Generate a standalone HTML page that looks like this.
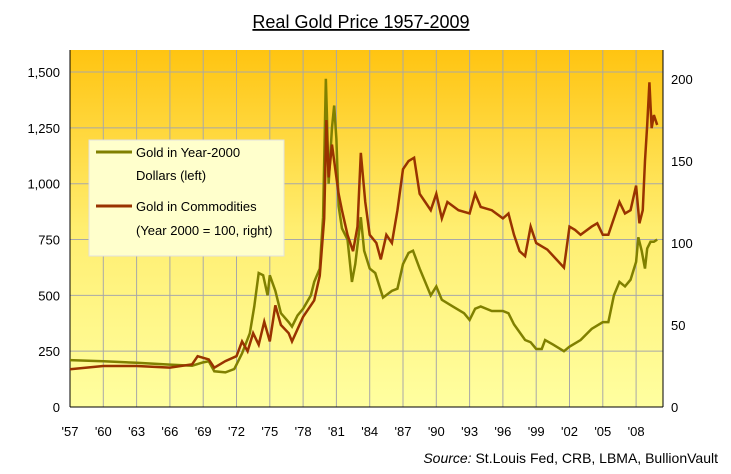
<!DOCTYPE html>
<html><head><meta charset="utf-8"><style>
body{margin:0;background:#fff;font-family:"Liberation Sans",Arial,sans-serif;}
svg text{font-family:"Liberation Sans",Arial,sans-serif;}
</style></head><body>
<svg id="chart" width="731" height="469" viewBox="0 0 731 469" xmlns="http://www.w3.org/2000/svg">
<defs><linearGradient id="bg" x1="0" y1="0" x2="0" y2="1">
<stop offset="0" stop-color="#FFC411"/><stop offset="0.5" stop-color="#FFEE70"/><stop offset="1" stop-color="#FFFFA0"/></linearGradient></defs>
<text x="361" y="28" text-anchor="middle" font-size="18" text-decoration="underline">Real Gold Price 1957-2009</text>
<rect x="70" y="50" width="593" height="357" fill="url(#bg)"/>
<g id="grid"></g><g id="axes"></g><g id="series"></g>
<g>
<rect x="89" y="140" width="195" height="116" fill="#FFFFCC" stroke="#E0E0E0"/>
<line x1="96" y1="152" x2="132" y2="152" stroke="#808000" stroke-width="3"/>
<text x="136" y="157" font-size="13">Gold in Year-2000</text>
<text x="136" y="180" font-size="13">Dollars (left)</text>
<line x1="96" y1="206" x2="132" y2="206" stroke="#993300" stroke-width="3"/>
<text x="136" y="211" font-size="13">Gold in Commodities</text>
<text x="136" y="235" font-size="13">(Year 2000 = 100, right)</text>
</g>
<text x="718" y="463" text-anchor="end" font-size="14"><tspan font-style="italic">Source:</tspan>  St.Louis Fed, CRB, LBMA, BullionVault</text>
</svg>
<script>
const leftTicks=[0,250,500,750,1000,1250,1500];
const leftTickLabels=["0","250","500","750","1,000","1,250","1,500"];
const rightTicks=[0,50,100,150,200];
const yearTicks=[1957,1960,1963,1966,1969,1972,1975,1978,1981,1984,1987,1990,1993,1996,1999,2002,2005,2008];
const yearLabels=["'57","'60","'63","'66","'69","'72","'75","'78","'81","'84","'87","'90","'93","'96","'99","'02","'05","'08"];
const goldYears=[1957,1960,1963,1966,1968,1969,1969.5,1970,1971,1971.8,1972.5,1973.2,1973.6,1974,1974.4,1974.8,1975,1975.5,1976,1976.7,1977,1977.5,1978,1978.7,1979,1979.5,1979.8,1980.05,1980.15,1980.3,1980.6,1980.8,1981,1981.2,1981.5,1982,1982.4,1982.7,1983.2,1983.5,1984,1984.5,1985.2,1986,1986.5,1987,1987.5,1987.9,1988.5,1989,1989.5,1990,1990.5,1991.5,1992.5,1993,1993.5,1994,1995,1996,1996.5,1997,1998,1998.5,1999,1999.5,1999.8,2000.5,2001.5,2002,2003,2004,2005,2005.5,2006,2006.5,2007,2007.5,2008,2008.2,2008.5,2008.8,2009,2009.3,2009.6,2009.9];
const goldValues=[210,205,198,190,185,200,205,160,155,170,240,330,450,600,590,500,590,520,420,380,360,410,440,500,560,620,850,1470,1300,1000,1250,1350,1200,900,800,750,560,640,850,700,620,600,490,520,530,640,690,700,620,560,500,540,480,450,420,390,440,450,430,430,420,370,300,290,260,260,300,280,250,270,300,350,380,380,500,560,540,570,650,760,700,620,710,740,740,750];
const commYears=[1957,1960,1963,1966,1968,1968.5,1969.5,1970,1971,1972,1972.5,1973,1973.5,1974,1974.5,1975,1975.5,1976,1976.7,1977,1978,1979,1979.5,1979.9,1980.1,1980.3,1980.6,1980.8,1981.2,1981.5,1982,1982.5,1982.9,1983.2,1983.6,1984,1984.6,1985,1985.5,1986,1986.5,1987,1987.5,1988,1988.5,1989,1989.5,1990,1990.5,1991,1992,1993,1993.5,1994,1995,1996,1996.5,1997,1997.5,1998,1998.5,1999,1999.5,2000,2001.5,2002,2002.5,2003,2004,2004.5,2005,2005.5,2006,2006.5,2007,2007.5,2008,2008.3,2008.6,2008.8,2009.0,2009.2,2009.4,2009.6,2009.9];
const commValues=[23,25,25,24,26,31,29,24,28,31,40,34,45,38,52,40,62,50,45,40,55,65,80,115,175,140,160,150,130,120,105,95,110,155,125,105,100,90,105,100,120,145,150,152,130,125,120,130,115,125,120,118,130,122,120,115,118,105,95,92,110,100,98,96,85,110,108,105,110,112,105,105,115,125,118,120,135,112,120,150,172,198,170,178,172];
const X=y=>70+(y-1957)*11.1, YL=v=>407-v*0.2233, YR=v=>407-v*1.64;
const NS="http://www.w3.org/2000/svg";
function mk(t,a,p){const e=document.createElementNS(NS,t);for(const k in a)e.setAttribute(k,a[k]);p.appendChild(e);return e;}
const grid=document.getElementById('grid'),axes=document.getElementById('axes'),ser=document.getElementById('series');
leftTicks.forEach((v,i)=>{if(v>0){const l=mk('line',{x1:70,x2:663,y1:YL(v),y2:YL(v),stroke:'#A8A8A8','stroke-width':1},grid);

}
const t=mk('text',{x:60,y:YL(v)+5,'text-anchor':'end','font-size':13},axes);t.textContent=leftTickLabels[i];

});
rightTicks.forEach(v=>{const t=mk('text',{x:671,y:YR(v)+5,'font-size':13},axes);t.textContent=v;

});
yearTicks.forEach((y,i)=>{if(i>0){const l=mk('line',{x1:X(y),x2:X(y),y1:50,y2:407,stroke:'#A8A8A8','stroke-width':1},grid);

}
const t=mk('text',{x:X(y),y:436,'text-anchor':'middle','font-size':13},axes);t.textContent=yearLabels[i];

});
mk('line',{x1:70,x2:70,y1:50,y2:407,stroke:'#000'},axes);
mk('line',{x1:663,x2:663,y1:50,y2:407,stroke:'#000'},axes);
mk('line',{x1:70,x2:663,y1:407,y2:407,stroke:'#000'},axes);
const g=mk('polyline',{points:goldYears.map((y,i)=>X(y)+','+YL(goldValues[i])).join(' '),fill:'none',stroke:'#808000','stroke-width':2.5},ser);


const c=mk('polyline',{points:commYears.map((y,i)=>X(y)+','+YR(commValues[i])).join(' '),fill:'none',stroke:'#993300','stroke-width':2.5},ser);


</script>
</body></html>
